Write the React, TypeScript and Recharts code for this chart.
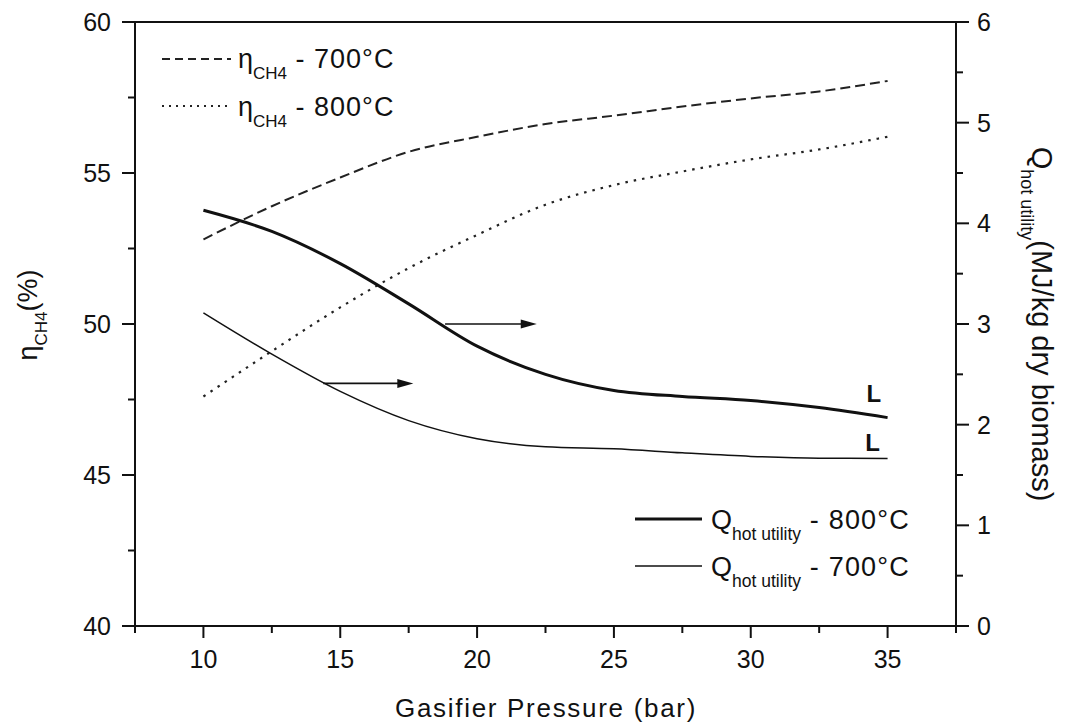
import React from 'react';
import { LineChart, Line, XAxis, YAxis, ReferenceLine, ReferenceDot } from 'recharts';

const pressure = [10, 12.5, 15, 17.5, 20, 22.5, 25, 27.5, 30, 32.5, 35];
const etaCH4_700 = [52.8, 53.9, 54.85, 55.7, 56.2, 56.62, 56.9, 57.2, 57.47, 57.7, 58.05];
const etaCH4_800 = [47.6, 49.1, 50.55, 51.85, 52.95, 53.95, 54.6, 55.05, 55.45, 55.78, 56.2];
const qHot_800 = [4.13, 3.92, 3.6, 3.2, 2.78, 2.5, 2.34, 2.28, 2.24, 2.17, 2.07];
const qHot_700 = [3.11, 2.7, 2.33, 2.04, 1.86, 1.78, 1.76, 1.72, 1.685, 1.667, 1.665];

const xTicks = [7.5, 10, 12.5, 15, 17.5, 20, 22.5, 25, 27.5, 30, 32.5, 35, 37.5];
const leftTicks = [40, 42.5, 45, 47.5, 50, 52.5, 55, 57.5, 60];
const rightTicks = [0, 0.5, 1, 1.5, 2, 2.5, 3, 3.5, 4, 4.5, 5, 5.5, 6];

// annotation arrows (data coordinates on the right axis)
const arrows = [
  { x1: 18.83, x2: 22.18, y: 3.0 },
  { x1: 14.38, x2: 17.67, y: 2.41 },
];
const lMarks = [
  { x: 34.5, y: 2.31 },
  { x: 34.45, y: 1.83 },
];

const data = pressure.map((p, i) => ({
  p,
  e700: etaCH4_700[i],
  e800: etaCH4_800[i],
  q800: qHot_800[i],
  q700: qHot_700[i],
}));

const FONT = '"Liberation Sans", Arial, Helvetica, sans-serif';
const INK = '#111';

const XTick = (props: any) => {
  const { x, y, payload } = props;
  const v = payload.value;
  const major = v % 5 === 0;
  return (
    <g>
      <line x1={x} y1={y} x2={x} y2={y + (major ? 12 : 7)} stroke={INK} strokeWidth={2} />
      {major && (
        <text x={x} y={y + 42} textAnchor="middle" fontSize={25} fontFamily={FONT} fill={INK}>
          {v}
        </text>
      )}
    </g>
  );
};

const LeftTick = (props: any) => {
  const { x, y, payload } = props;
  const v = payload.value;
  const major = v % 5 === 0;
  return (
    <g>
      <line x1={x} y1={y} x2={x - (major ? 13 : 7)} y2={y} stroke={INK} strokeWidth={2} />
      {major && (
        <text x={x - 24} y={y + 9} textAnchor="end" fontSize={25} fontFamily={FONT} fill={INK}>
          {v}
        </text>
      )}
    </g>
  );
};

const RightTick = (props: any) => {
  const { x, y, payload } = props;
  const v = payload.value;
  const major = v % 1 === 0;
  return (
    <g>
      <line x1={x} y1={y} x2={x + (major ? 13 : 7)} y2={y} stroke={INK} strokeWidth={2} />
      {major && (
        <text x={x + 21} y={y + 9} textAnchor="start" fontSize={25} fontFamily={FONT} fill={INK}>
          {v}
        </text>
      )}
    </g>
  );
};

const ArrowShape = (props: any) => {
  const { x1, y1, x2, y2 } = props;
  if (x1 == null) return null;
  return (
    <g>
      <line x1={x1} y1={y1} x2={x2 - 12} y2={y2} stroke={INK} strokeWidth={1.6} />
      <polygon points={`${x2},${y2} ${x2 - 16},${y2 - 4.5} ${x2 - 16},${y2 + 4.5}`} fill={INK} />
    </g>
  );
};

const LShape = (props: any) => {
  const { cx, cy } = props;
  return (
    <text x={cx} y={cy + 9} textAnchor="middle" fontSize={24} fontWeight="bold" fontFamily={FONT} fill={INK}>
      L
    </text>
  );
};

export default function App() {
  return (
    <div style={{ position: 'absolute', left: 0, top: 0, width: 1067, height: 727, background: '#fff' }}>
      <LineChart
        width={1067}
        height={727}
        data={data}
        margin={{ top: 22, right: 0, bottom: 0, left: 0 }}
      >
        <XAxis
          dataKey="p"
          type="number"
          domain={[7.5, 37.5]}
          ticks={xTicks}
          interval={0}
          tickSize={0}
          tickMargin={0}
          tickLine={false}
          tick={<XTick />}
          height={101}
          axisLine={{ stroke: INK, strokeWidth: 2 }}
        />
        <YAxis
          yAxisId="left"
          orientation="left"
          domain={[40, 60]}
          ticks={leftTicks}
          interval={0}
          tickSize={0}
          tickMargin={0}
          tickLine={false}
          tick={<LeftTick />}
          width={135}
          axisLine={{ stroke: INK, strokeWidth: 2 }}
        />
        <YAxis
          yAxisId="right"
          orientation="right"
          domain={[0, 6]}
          ticks={rightTicks}
          interval={0}
          tickSize={0}
          tickMargin={0}
          tickLine={false}
          tick={<RightTick />}
          width={111}
          axisLine={{ stroke: INK, strokeWidth: 2 }}
        />
        <ReferenceLine yAxisId="left" y={60} stroke={INK} strokeWidth={2} />
        <Line yAxisId="left" type="monotone" dataKey="e700" stroke="#222" strokeWidth={2} strokeDasharray="10 5" dot={false} isAnimationActive={false} />
        <Line yAxisId="left" type="monotone" dataKey="e800" stroke="#222" strokeWidth={2.2} strokeDasharray="2.5 6" dot={false} isAnimationActive={false} />
        <Line yAxisId="right" type="monotone" dataKey="q800" stroke="#111" strokeWidth={3} dot={false} isAnimationActive={false} />
        <Line yAxisId="right" type="monotone" dataKey="q700" stroke="#111" strokeWidth={1.5} dot={false} isAnimationActive={false} />
        {arrows.map((a, i) => (
          <ReferenceLine
            key={'a' + i}
            yAxisId="right"
            segment={[{ x: a.x1, y: a.y }, { x: a.x2, y: a.y }]}
            shape={<ArrowShape />}
          />
        ))}
        {lMarks.map((m, i) => (
          <ReferenceDot key={'l' + i} yAxisId="right" x={m.x} y={m.y} r={0} shape={<LShape />} />
        ))}
      </LineChart>
      <svg
        width={1067}
        height={727}
        style={{ position: 'absolute', left: 0, top: 0, pointerEvents: 'none' }}
        fontFamily={FONT}
        fill={INK}
      >
        {/* top-left legend */}
        <line x1={162} y1={59} x2={231} y2={59} stroke="#222" strokeWidth={2} strokeDasharray="8 5" />
        <text x={238} y={68} fontSize={27}>
          η<tspan dy={11} fontSize={17}>CH4</tspan>
          <tspan dy={-11} letterSpacing={1}> - 700°C</tspan>
        </text>
        <line x1={162} y1={106} x2={231} y2={106} stroke="#222" strokeWidth={2} strokeDasharray="2 5" />
        <text x={238} y={116} fontSize={27}>
          η<tspan dy={11} fontSize={17}>CH4</tspan>
          <tspan dy={-11} letterSpacing={1}> - 800°C</tspan>
        </text>
        {/* bottom-right legend */}
        <line x1={635} y1={519} x2={702} y2={519} stroke="#111" strokeWidth={3} />
        <text x={711} y={529} fontSize={27}>
          Q<tspan dy={11} fontSize={17.5}>hot utility</tspan>
          <tspan dy={-11} letterSpacing={1.2}> - 800°C</tspan>
        </text>
        <line x1={635} y1={566} x2={702} y2={566} stroke="#111" strokeWidth={1.5} />
        <text x={711} y={576} fontSize={27}>
          Q<tspan dy={11} fontSize={17.5}>hot utility</tspan>
          <tspan dy={-11} letterSpacing={1.2}> - 700°C</tspan>
        </text>
        {/* x-axis title */}
        <text x={546} y={717} fontSize={26} textAnchor="middle" letterSpacing={1.7}>
          Gasifier Pressure (bar)
        </text>
        {/* left axis title */}
        <text transform="translate(37,315) rotate(-90)" fontSize={27} textAnchor="middle">
          η<tspan dy={10} fontSize={17}>CH4</tspan>
          <tspan dy={-10}>(%)</tspan>
        </text>
        {/* right axis title */}
        <text transform="translate(1032,324) rotate(90)" fontSize={29} textAnchor="middle">
          Q<tspan dy={11} fontSize={18}>hot utility</tspan>
          <tspan dy={-11}>(MJ/kg dry biomass)</tspan>
        </text>
      </svg>
    </div>
  );
}
